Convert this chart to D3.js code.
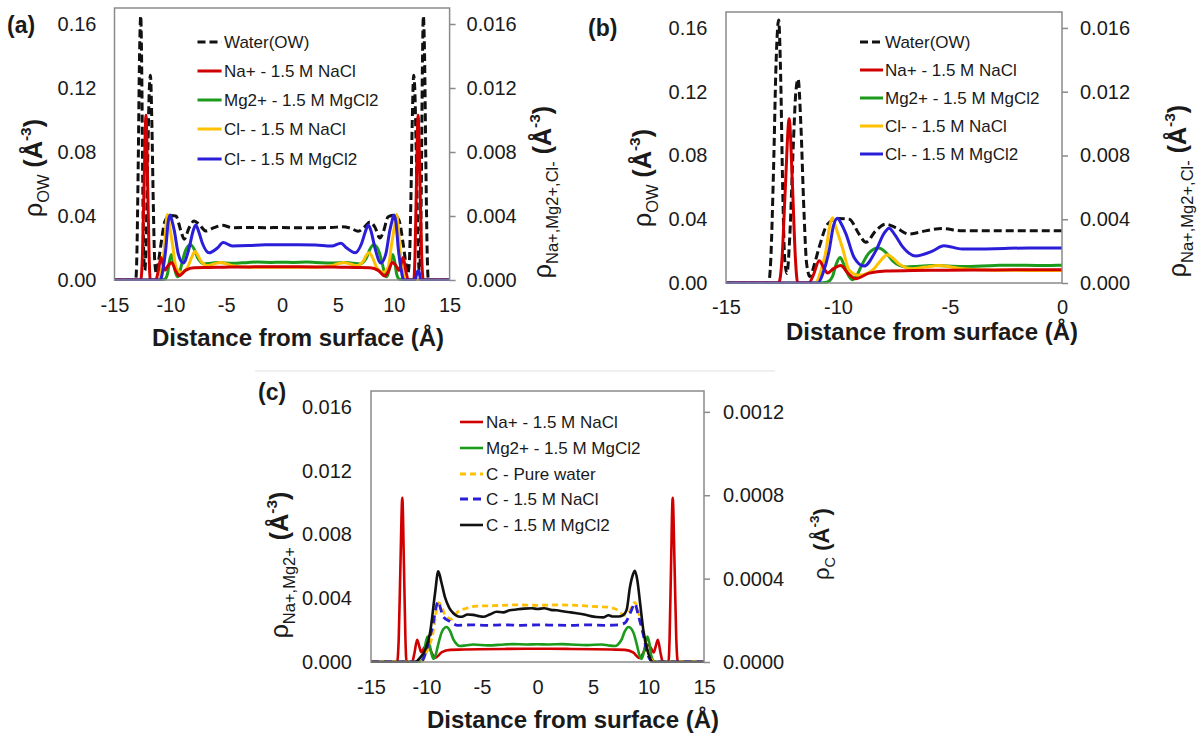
<!DOCTYPE html>
<html><head><meta charset="utf-8">
<script src="https://cdn.jsdelivr.net/npm/d3@7"></script>
<style>
body{margin:0;background:#fff}
svg{display:block}
text{font-family:"Liberation Sans",Arial,sans-serif;fill:#1a1a1a}
</style>
</head><body>
<svg id="fig" width="1197" height="736"></svg>
<script>
// ---------------- DATA ----------------
const xTicksFull = [-15, -10, -5, 0, 5, 10, 15];
const xTicksHalf = [-15, -10, -5, 0];
const owTicks = [0, 0.04, 0.08, 0.12, 0.16];
const ionTicks = [0, 0.004, 0.008, 0.012, 0.016];
const cTicks = [0, 0.0004, 0.0008, 0.0012];

// [distance (Å), density]
const waterOW = [[-15,0],[-13.1,0],[-13.0,0.015],[-12.88,0.07],[-12.76,0.14],[-12.65,0.165],[-12.56,0.13],[-12.47,0.06],[-12.38,0.015],[-12.28,0.006],[-12.15,0.03],[-12.0,0.085],[-11.88,0.12],[-11.78,0.128],[-11.66,0.10],[-11.52,0.045],[-11.4,0.012],[-11.25,0.004],[-11.05,0.012],[-10.84,0.0224],[-10.47,0.0369],[-10.02,0.0404],[-9.5,0.040],[-9.06,0.0307],[-8.76,0.0255],[-8.32,0.0327],[-7.87,0.0369],[-7.43,0.0348],[-6.83,0.0307],[-6.09,0.0327],[-5.35,0.0342],[-4.45,0.0327],[-3,0.0328],[-1.5,0.0327],[0,0.0328],[1.5,0.0326],[3,0.0327],[4.45,0.0328],[5.35,0.0333],[6.09,0.0325],[6.83,0.0305],[7.43,0.0335],[7.87,0.0362],[8.32,0.0330],[8.76,0.0262],[9.06,0.030],[9.5,0.0395],[10.02,0.0405],[10.47,0.0372],[10.84,0.0226],[11.05,0.012],[11.25,0.004],[11.4,0.012],[11.52,0.045],[11.66,0.10],[11.78,0.128],[11.88,0.12],[12.0,0.085],[12.15,0.03],[12.28,0.006],[12.38,0.015],[12.47,0.06],[12.56,0.13],[12.65,0.165],[12.76,0.14],[12.88,0.07],[13.0,0.015],[13.1,0],[15,0]];

const naNaCl = [[-15,0],[-12.65,0],[-12.5,0.0015],[-12.35,0.006],[-12.18,0.0103],[-12.03,0.006],[-11.9,0.0015],[-11.8,0],[-11.3,0],[-11.1,0.0005],[-10.84,0.0014],[-10.62,0.0009],[-10.47,0.00062],[-10.2,0.0009],[-9.88,0.0011],[-9.55,0.0006],[-9.21,0.00027],[-8.61,0.00062],[-7.87,0.00076],[-6.68,0.00078],[-5.2,0.0008],[-3,0.00082],[-1,0.00083],[0,0.00083],[1,0.00083],[3,0.00082],[5.2,0.0008],[6.68,0.00078],[7.87,0.00076],[8.61,0.0006],[9.21,0.00025],[9.55,0.0006],[9.88,0.0011],[10.2,0.0009],[10.47,0.0006],[10.62,0.0009],[10.84,0.0014],[11.1,0.0005],[11.3,0],[11.8,0],[11.9,0.0015],[12.03,0.006],[12.18,0.0103],[12.35,0.006],[12.5,0.0015],[12.65,0],[15,0]];

const mgMgCl2 = [[-15,0],[-10.84,0],[-10.5,0.00005],[-10.25,0.0004],[-10.1,0.0011],[-9.91,0.0016],[-9.72,0.0011],[-9.5,0.0004],[-9.36,0.0002],[-9.15,0.0005],[-8.98,0.001],[-8.61,0.0019],[-8.2,0.0022],[-7.85,0.0019],[-7.57,0.0014],[-7.25,0.0011],[-6.98,0.001],[-6.4,0.00105],[-5.79,0.0011],[-4.45,0.00104],[-3,0.0011],[-2.23,0.00112],[-1,0.0011],[0,0.00111],[1,0.0011],[2.23,0.00112],[3,0.0011],[4.45,0.00106],[5.79,0.0011],[6.4,0.00104],[6.98,0.001],[7.25,0.0011],[7.57,0.0014],[7.85,0.0019],[8.2,0.0022],[8.61,0.0019],[8.98,0.001],[9.15,0.0005],[9.36,0.0002],[9.5,0.0004],[9.72,0.0011],[9.91,0.0016],[10.1,0.0011],[10.25,0.0004],[10.5,0.00005],[10.84,0],[15,0]];

const clNaCl = [[-15,0],[-11.0,0],[-10.8,0.0006],[-10.54,0.002],[-10.38,0.0035],[-10.25,0.0041],[-10.1,0.0035],[-9.8,0.0022],[-9.5,0.0008],[-9.06,0.00048],[-8.46,0.0008],[-8.1,0.0014],[-7.8,0.00178],[-7.5,0.0015],[-7.28,0.0012],[-6.68,0.0009],[-6.1,0.001],[-5.49,0.0011],[-4.45,0.00089],[-3,0.0008],[-1.5,0.00079],[0,0.00079],[1.5,0.0008],[3,0.0008],[4.45,0.0009],[5.49,0.0011],[6.1,0.001],[6.68,0.0009],[7.28,0.0012],[7.5,0.0015],[7.8,0.0017],[8.1,0.0014],[8.46,0.0008],[9.06,0.00048],[9.5,0.0008],[9.8,0.0022],[10.1,0.0035],[10.25,0.0041],[10.38,0.0035],[10.54,0.002],[10.8,0.0006],[11.0,0],[15,0]];

const clMgCl2 = [[-15,0],[-10.9,0],[-10.65,0.0007],[-10.4,0.002],[-10.2,0.0036],[-10.02,0.00406],[-9.85,0.0037],[-9.65,0.0031],[-9.28,0.0016],[-8.84,0.00106],[-8.32,0.002],[-7.95,0.0031],[-7.72,0.00344],[-7.45,0.003],[-7.13,0.0023],[-6.53,0.0017],[-5.79,0.002],[-5.27,0.00234],[-4.45,0.00213],[-3,0.00215],[-1.5,0.0022],[0,0.0022],[1.5,0.0022],[3,0.00218],[4.45,0.00212],[5.27,0.0023],[5.79,0.002],[6.53,0.0017],[7.13,0.0023],[7.45,0.003],[7.72,0.00344],[7.95,0.0031],[8.32,0.002],[8.84,0.00106],[9.28,0.0016],[9.65,0.0031],[9.85,0.0037],[10.02,0.00406],[10.2,0.0036],[10.4,0.002],[10.65,0.0007],[10.9,0],[11.9,0],[12.1,0.0005],[12.25,0.0006],[12.4,0],[15,0]];

const cPureWater = [[-15,0],[-10.6,0],[-10.3,0.00001],[-9.9,0.00006],[-9.39,0.000146],[-9.1,0.00025],[-8.9,0.000285],[-8.6,0.00026],[-8.33,0.000226],[-7.73,0.000205],[-7.2,0.00024],[-6.38,0.000258],[-5.5,0.000268],[-4,0.00027],[-2,0.000274],[0,0.000272],[2,0.000274],[4,0.00027],[5.5,0.000265],[6.5,0.000262],[7.2,0.00025],[7.8,0.000225],[8.2,0.000235],[8.76,0.000285],[9.2,0.00022],[9.6,0.00012],[10.0,0.00004],[10.6,0],[15,0]];

const cNaCl = [[-15,0],[-10.5,0],[-10.14,0.000034],[-9.7,0.00012],[-9.39,0.000186],[-9.15,0.00026],[-8.94,0.00029],[-8.7,0.00025],[-8.49,0.000217],[-7.88,0.000194],[-7.2,0.000176],[-6,0.000178],[-4.5,0.000176],[-3,0.000178],[-1.5,0.000176],[0,0.000178],[1.5,0.000177],[3,0.000176],[4.5,0.000178],[6,0.000176],[7.27,0.000178],[7.9,0.000188],[8.4,0.00024],[8.76,0.00028],[9.1,0.00022],[9.51,0.000136],[9.9,0.00004],[10.4,0],[15,0]];

const cMgCl2 = [[-15,0],[-11.0,0],[-10.59,0.00002],[-10.1,0.00006],[-9.68,0.00014],[-9.23,0.00033],[-8.94,0.000435],[-8.65,0.00038],[-8.33,0.00031],[-7.95,0.00026],[-7.58,0.000234],[-7.2,0.00022],[-6.83,0.000217],[-6.3,0.000228],[-5.78,0.000226],[-5.3,0.00022],[-4.88,0.000217],[-4.3,0.000228],[-3.68,0.000241],[-3.1,0.000238],[-2.5,0.000248],[-1.9,0.000252],[-1.2,0.000256],[-0.5,0.000258],[0,0.000254],[0.6,0.000258],[1.2,0.00025],[1.72,0.000248],[2.4,0.000242],[3.0,0.000238],[3.52,0.000234],[4.2,0.000228],[4.8,0.00022],[5.32,0.000216],[5.9,0.000214],[6.4,0.000224],[6.82,0.000218],[7.3,0.000218],[7.72,0.000225],[8.03,0.00025],[8.33,0.00036],[8.6,0.00042],[8.78,0.000437],[9.0,0.00039],[9.25,0.00028],[9.53,0.000154],[9.98,0.000043],[10.4,0],[15,0]];

const legendA = ["Water(OW)", "Na+ - 1.5 M NaCl", "Mg2+ - 1.5 M MgCl2", "Cl- - 1.5 M NaCl", "Cl- - 1.5 M MgCl2"];
const legendC = ["Na+ - 1.5 M NaCl", "Mg2+ - 1.5 M MgCl2", "C - Pure water", "C - 1.5 M NaCl", "C - 1.5 M MgCl2"];

// ---------------- STYLES ----------------
const COL = {black:"#111", red:"#d00000", green:"#1c9a1c", yellow:"#ffc000", blue:"#2b1ed8"};
const FONT = '"Liberation Sans", Arial, sans-serif';

const svg = d3.select("#fig");

function yTitle(g, cx, cy, sub, size) {
  const t = g.append("text")
    .attr("transform", `translate(${cx},${cy}) rotate(-90)`)
    .attr("text-anchor", "middle")
    .attr("y", size * 0.3)
    .style("font-size", size + "px");
  t.append("tspan").text("ρ");
  t.append("tspan").style("font-size", (size*0.66) + "px").attr("dy", size*0.28).text(sub);
  t.append("tspan").style("font-weight", "bold").attr("dy", -size*0.28).text(" (Å");
  t.append("tspan").style("font-weight", "bold").style("font-size", (size*0.62) + "px").attr("dy", -size*0.42).text("-3");
  t.append("tspan").style("font-weight", "bold").attr("dy", size*0.42).text(")");
}

function drawPanel(p) {
  const g = svg.append("g");
  const x = d3.scaleLinear().domain(p.xDomain).range([p.left, p.right]);
  const yL = d3.scaleLinear().domain(p.yLDomain).range([p.bottom, p.top]);
  const yR = d3.scaleLinear().domain(p.yRDomain).range([p.bottom, p.top]);

  const clipId = "clip-" + p.id;
  svg.append("clipPath").attr("id", clipId).append("rect")
    .attr("x", p.left).attr("y", p.top - 1).attr("width", p.right - p.left).attr("height", p.bottom - p.top + 2);

  const plot = g.append("g").attr("clip-path", `url(#${clipId})`);
  p.series.forEach(s => {
    const ys = s.axis === "L" ? yL : yR;
    const line = d3.line().x(d => x(d[0])).y(d => ys(d[1])).curve(d3.curveMonotoneX);
    plot.append("path").attr("d", line(s.data))
      .attr("fill", "none").attr("stroke", s.color).attr("stroke-width", s.width)
      .attr("stroke-dasharray", s.dash || null).attr("stroke-linejoin", "round");
  });

  // frame
  g.append("rect").attr("x", p.left).attr("y", p.top)
    .attr("width", p.right - p.left).attr("height", p.bottom - p.top)
    .attr("fill", "none").attr("stroke", "#8a8a8a").attr("stroke-width", 1.5);

  const styleAxis = sel => {
    sel.select(".domain").remove();
    sel.selectAll("text").style("font-size", "20px").style("font-family", FONT).attr("fill", "#1a1a1a");
    sel.selectAll("line").attr("stroke", "#8a8a8a").attr("stroke-width", 1.5);
  };

  g.append("g").attr("transform", `translate(${p.left},0)`)
    .call(d3.axisLeft(yL).tickValues(p.yLTicks).tickFormat(d3.format(p.yLFmt)).tickSize(0).tickPadding(p.padL))
    .call(styleAxis);
  g.append("g").attr("transform", `translate(${p.right},0)`)
    .call(d3.axisRight(yR).tickValues(p.yRTicks).tickFormat(d3.format(p.yRFmt)).tickSize(6).tickPadding(p.padR - 6))
    .call(styleAxis);
  g.append("g").attr("transform", `translate(0,${p.bottom})`)
    .call(d3.axisBottom(x).tickValues(p.xTicks).tickFormat(d => String(d)).tickSize(0).tickPadding(p.padB))
    .call(styleAxis);

  // x title
  g.append("text").attr("x", p.xTitle[0]).attr("y", p.xTitle[1]).attr("text-anchor", "middle")
    .style("font-size", "24px").style("font-weight", "bold").text("Distance from surface (Å)");

  // y titles
  yTitle(g, p.yLTitle[0], p.yLTitle[1], p.yLSub, p.yLSize);
  yTitle(g, p.yRTitle[0], p.yRTitle[1], p.yRSub, p.yRSize);

  // panel letter
  g.append("text").attr("x", p.letter[0]).attr("y", p.letter[1]).style("font-size", "23px")
    .style("font-weight", "bold").text(p.letterText);

  // legend
  p.legend.labels.forEach((lab, i) => {
    const s = p.series[p.legend.order[i]];
    const yy = p.legend.rows[i];
    g.append("line").attr("x1", p.legend.x1).attr("x2", p.legend.x2).attr("y1", yy).attr("y2", yy)
      .attr("stroke", s.color).attr("stroke-width", s.width).attr("stroke-dasharray", s.dash || null);
    g.append("text").attr("x", p.legend.tx).attr("y", yy).attr("dy", "0.35em")
      .style("font-size", "17px").text(lab);
  });
}

const seriesAB = [
  {data: waterOW, axis: "L", color: COL.black, width: 3, dash: "8,4"},
  {data: naNaCl, axis: "R", color: COL.red, width: 3},
  {data: mgMgCl2, axis: "R", color: COL.green, width: 3},
  {data: clNaCl, axis: "R", color: COL.yellow, width: 3},
  {data: clMgCl2, axis: "R", color: COL.blue, width: 3}
];
// draw order for AB: water, green, yellow, red, blue
const seriesABDraw = [seriesAB[0], seriesAB[2], seriesAB[3], seriesAB[1], seriesAB[4]];

const seriesC = [
  {data: naNaCl, axis: "L", color: COL.red, width: 2.6},
  {data: mgMgCl2, axis: "L", color: COL.green, width: 2.6},
  {data: cPureWater, axis: "R", color: COL.yellow, width: 2.8, dash: "6,4"},
  {data: cNaCl, axis: "R", color: COL.blue, width: 2.8, dash: "8,5"},
  {data: cMgCl2, axis: "R", color: COL.black, width: 2.6}
];

// faint separator above panel (c)
svg.append("line").attr("x1", 255).attr("x2", 775).attr("y1", 371).attr("y2", 371)
  .attr("stroke", "#f0f0f0").attr("stroke-width", 2);

drawPanel({
  id: "a", left: 114.5, right: 449.6, top: 8, bottom: 280,
  xDomain: [-15, 15], yLDomain: [0, 0.17], yRDomain: [0, 0.017],
  xTicks: xTicksFull, yLTicks: owTicks, yRTicks: ionTicks, yLFmt: ".2f", yRFmt: ".3f",
  padL: 18, padR: 17, padB: 18,
  series: seriesABDraw,
  xTitle: [298, 346], yLTitle: [34, 168], yRTitle: [543, 192], yLSub: "OW", yRSub: "Na+,Mg2+,Cl-",
  yLSize: 25, yRSize: 25,
  letter: [7, 33], letterText: "(a)",
  legend: {labels: legendA, order: [0, 3, 1, 2, 4], rows: [42, 71, 100, 129, 159], x1: 197.5, x2: 221.6, tx: 224}
});

drawPanel({
  id: "b", left: 726, right: 1062, top: 12, bottom: 283,
  xDomain: [-15, 0], yLDomain: [0, 0.17], yRDomain: [0, 0.017],
  xTicks: xTicksHalf, yLTicks: owTicks, yRTicks: ionTicks, yLFmt: ".2f", yRFmt: ".3f",
  padL: 18.5, padR: 18, padB: 17,
  series: seriesABDraw,
  xTitle: [932, 340], yLTitle: [643, 178], yRTitle: [1178, 191], yLSub: "OW", yRSub: "Na+,Mg2+,Cl-",
  yLSize: 25, yRSize: 25,
  letter: [588, 36], letterText: "(b)",
  legend: {labels: legendA, order: [0, 3, 1, 2, 4], rows: [42, 70, 98, 126, 154], x1: 860, x2: 883, tx: 885}
});

drawPanel({
  id: "c", left: 371, right: 704, top: 391, bottom: 662,
  xDomain: [-15, 15], yLDomain: [0, 0.017], yRDomain: [0, 0.0013],
  xTicks: xTicksFull, yLTicks: ionTicks, yRTicks: cTicks, yLFmt: ".3f", yRFmt: ".4f",
  padL: 19, padR: 19, padB: 18,
  series: seriesC,
  xTitle: [573, 728], yLTitle: [280, 565], yRTitle: [822, 544], yLSub: "Na+,Mg2+", yRSub: "C",
  yLSize: 25, yRSize: 22,
  letter: [258, 400], letterText: "(c)",
  legend: {labels: legendC, order: [0, 1, 2, 3, 4], rows: [422, 448, 474, 499, 525], x1: 460, x2: 483, tx: 486}
});
</script>
</body></html>
